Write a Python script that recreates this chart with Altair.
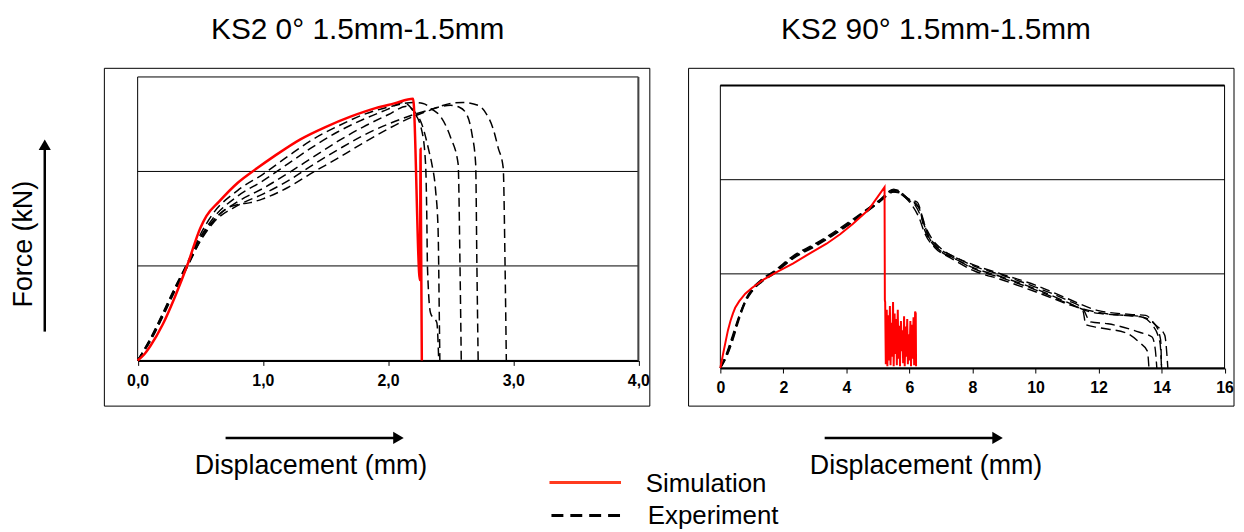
import altair as alt
import pandas as pd

# ---------------- data ----------------
TITLE_LEFT = "KS2 0° 1.5mm-1.5mm"
TITLE_RIGHT = "KS2 90° 1.5mm-1.5mm"
X_LABEL = "Displacement (mm)"
Y_LABEL = "Force (kN)"
LEGEND_SIM = "Simulation"
LEGEND_EXP = "Experiment"

LEFT_TICKS = [0, 1, 2, 3, 4]
RIGHT_TICKS = [0, 2, 4, 6, 8, 10, 12, 14, 16]
GRID_Y = [1, 2]

# left panel (0 deg): simulation
L_SIM = [(0, 0), (0.05, 0.06), (0.1, 0.15), (0.2, 0.38), (0.3, 0.68), (0.4, 1.02),
         (0.5, 1.40), (0.55, 1.53), (0.65, 1.68), (0.8, 1.88), (0.95, 2.03), (1.1, 2.17),
         (1.3, 2.34), (1.5, 2.47), (1.7, 2.58), (1.9, 2.67), (2.05, 2.72), (2.2, 2.77),
         (2.255, 0.85), (2.26, 2.24), (2.27, 0)]
# left panel: experiments
L_EXP_A = [(0, 0), (0.1, 0.22), (0.2, 0.48), (0.3, 0.76), (0.4, 1.02), (0.5, 1.3), (0.6, 1.5),
           (0.8, 1.74), (1.0, 1.9), (1.2, 2.08), (1.4, 2.26), (1.6, 2.42), (1.8, 2.55),
           (2.0, 2.66), (2.12, 2.73), (2.2, 2.64), (2.27, 2.43), (2.30, 2.08), (2.31, 1.5),
           (2.315, 0.99), (2.34, 0.5), (2.39, 0.4), (2.405, 0)]
L_EXP_B = [(0, 0), (0.1, 0.2), (0.2, 0.46), (0.3, 0.74), (0.4, 1.0), (0.5, 1.27), (0.6, 1.47),
           (0.8, 1.68), (1.0, 1.82), (1.2, 1.98), (1.4, 2.15), (1.6, 2.32), (1.8, 2.47),
           (2.0, 2.6), (2.15, 2.69), (2.22, 2.62), (2.27, 2.5), (2.33, 2.2), (2.35, 2.08),
           (2.38, 1.8), (2.40, 1.38), (2.41, 0.43), (2.414, 0)]
L_EXP_C = [(0, 0), (0.1, 0.23), (0.2, 0.5), (0.3, 0.78), (0.4, 1.04), (0.5, 1.33), (0.6, 1.55),
           (0.8, 1.80), (1.0, 1.97), (1.2, 2.16), (1.4, 2.34), (1.6, 2.48), (1.8, 2.6),
           (2.0, 2.68), (2.2, 2.73), (2.28, 2.72), (2.35, 2.66), (2.42, 2.58), (2.5, 2.36),
           (2.56, 2.08), (2.575, 1.0), (2.585, 0)]
L_EXP_D = [(0, 0), (0.1, 0.21), (0.2, 0.47), (0.3, 0.75), (0.4, 1.0), (0.5, 1.26), (0.6, 1.45),
           (0.8, 1.64), (1.0, 1.76), (1.2, 1.9), (1.4, 2.07), (1.6, 2.23), (1.8, 2.38),
           (2.0, 2.5), (2.2, 2.6), (2.3, 2.64), (2.4, 2.68), (2.5, 2.70), (2.57, 2.68),
           (2.63, 2.6), (2.67, 2.4), (2.70, 2.08), (2.71, 1.0), (2.72, 0)]
L_EXP_E = [(0, 0), (0.1, 0.22), (0.2, 0.49), (0.3, 0.77), (0.4, 1.03), (0.5, 1.3), (0.6, 1.47),
           (0.7, 1.6), (0.8, 1.65), (0.9, 1.67), (1.0, 1.71), (1.2, 1.83), (1.4, 1.99),
           (1.6, 2.14), (1.8, 2.30), (2.0, 2.45), (2.2, 2.58), (2.36, 2.66), (2.5, 2.72),
           (2.6, 2.73), (2.72, 2.70), (2.78, 2.62), (2.84, 2.45), (2.88, 2.25), (2.92, 2.04),
           (2.935, 1.0), (2.945, 0)]

# right panel (90 deg): simulation
R_SIM = [(0, 0), (0.08, 0.14), (0.16, 0.27), (0.24, 0.40), (0.32, 0.50), (0.4, 0.58),
         (0.47, 0.64), (0.6, 0.71), (0.79, 0.79), (1.0, 0.85), (1.37, 0.94), (1.8, 1.02),
         (2.3, 1.11), (2.8, 1.21), (3.37, 1.32), (3.8, 1.42), (4.2, 1.53), (4.7, 1.68),
         (5.21, 1.92), (5.22, 0.72),
         (5.23, 0.70), (5.25, 0.04), (5.28, 0.62), (5.30, 0.02), (5.33, 0.56), (5.35, 0.08),
         (5.38, 0.66), (5.40, 0.03), (5.43, 0.48), (5.45, 0.12), (5.48, 0.70), (5.50, 0.02),
         (5.53, 0.58), (5.55, 0.15), (5.58, 0.52), (5.60, 0.03), (5.63, 0.62), (5.65, 0.10),
         (5.68, 0.45), (5.70, 0.02), (5.73, 0.50), (5.75, 0.18), (5.78, 0.40), (5.80, 0.05),
         (5.83, 0.55), (5.85, 0.02), (5.88, 0.44), (5.90, 0.12), (5.93, 0.52), (5.95, 0.04),
         (5.98, 0.36), (6.00, 0.08), (6.03, 0.50), (6.05, 0.02), (6.08, 0.46), (6.10, 0.10),
         (6.13, 0.54), (6.15, 0.03), (6.18, 0.60), (6.20, 0.58), (6.21, 0.02)]
# right panel: experiments
R_EXP_1 = [(0, 0), (0.2, 0.16), (0.4, 0.36), (0.6, 0.56), (0.8, 0.72), (1.0, 0.82), (1.3, 0.92),
           (1.7, 1.01), (2.3, 1.17), (3.0, 1.30), (3.4, 1.38), (4.2, 1.56), (5.0, 1.76),
           (5.5, 1.90), (5.75, 1.84), (6.0, 1.78), (6.2, 1.75), (6.35, 1.66), (6.45, 1.5),
           (6.65, 1.36), (6.95, 1.25), (7.5, 1.15), (8.0, 1.07), (9.0, 0.96), (10.0, 0.84),
           (11.0, 0.70), (11.6, 0.61), (12.0, 0.58), (12.8, 0.56), (13.4, 0.54), (13.8, 0.46),
           (13.97, 0.30), (14.0, 0)]
R_EXP_2 = [(0, 0), (0.2, 0.12), (0.4, 0.3), (0.6, 0.52), (0.8, 0.7), (1.0, 0.81), (1.3, 0.91),
           (1.7, 1.0), (2.3, 1.16), (3.0, 1.29), (3.4, 1.37), (4.2, 1.55), (5.0, 1.75),
           (5.6, 1.88), (5.9, 1.80), (6.1, 1.72), (6.3, 1.6), (6.5, 1.42), (6.8, 1.28),
           (7.3, 1.17), (8.0, 1.04), (9.0, 0.93), (10.0, 0.81), (11.0, 0.68), (11.5, 0.61),
           (11.6, 0.46), (12.0, 0.43), (12.9, 0.37), (13.3, 0.27), (13.55, 0.18), (13.6, 0)]
R_EXP_3 = [(0, 0), (0.2, 0.14), (0.4, 0.33), (0.6, 0.54), (0.8, 0.71), (1.0, 0.83), (1.3, 0.93),
           (1.7, 1.02), (2.3, 1.18), (3.0, 1.31), (3.4, 1.39), (4.2, 1.57), (5.0, 1.77),
           (5.6, 1.89), (5.85, 1.83), (6.1, 1.76), (6.3, 1.7), (6.45, 1.55), (6.7, 1.38),
           (7.0, 1.27), (7.5, 1.17), (8.0, 1.09), (9.0, 0.98), (10.0, 0.86), (11.0, 0.72),
           (11.5, 0.63), (11.75, 0.49), (12.3, 0.47), (13.3, 0.38), (13.7, 0.33), (13.8, 0.2),
           (13.85, 0)]
R_EXP_4 = [(0, 0), (0.2, 0.13), (0.4, 0.32), (0.6, 0.55), (0.8, 0.73), (1.0, 0.84), (1.3, 0.94),
           (1.7, 1.03), (2.3, 1.19), (3.0, 1.32), (3.4, 1.4), (4.2, 1.58), (5.0, 1.77),
           (5.5, 1.89), (5.7, 1.87), (6.0, 1.79), (6.25, 1.76), (6.4, 1.62), (6.55, 1.45),
           (6.85, 1.3), (7.3, 1.2), (8.0, 1.1), (9.0, 0.99), (10.0, 0.88), (11.0, 0.74),
           (12.0, 0.61), (13.0, 0.57), (13.5, 0.56), (13.8, 0.46), (14.1, 0.35), (14.2, 0)]
R_EXP_5 = [(0, 0), (0.2, 0.15), (0.4, 0.34), (0.6, 0.55), (0.8, 0.71), (1.0, 0.82), (1.3, 0.92),
           (1.7, 1.02), (2.3, 1.17), (3.0, 1.3), (3.4, 1.38), (4.2, 1.55), (5.0, 1.75),
           (5.45, 1.87), (5.7, 1.86), (5.95, 1.79), (6.2, 1.72), (6.4, 1.58), (6.6, 1.4),
           (6.9, 1.27), (7.4, 1.17), (8.0, 1.06), (9.0, 0.95), (10.0, 0.83), (11.0, 0.69),
           (11.5, 0.63), (12.4, 0.57), (13.3, 0.55), (13.7, 0.46), (13.95, 0.27), (14.0, 0)]

LEFT_EXP = {"A": L_EXP_A, "B": L_EXP_B, "C": L_EXP_C, "D": L_EXP_D, "E": L_EXP_E}
RIGHT_EXP = {"1": R_EXP_1, "2": R_EXP_2, "3": R_EXP_3, "4": R_EXP_4, "5": R_EXP_5}


def curves_df(curves):
    rows = []
    for name, pts in curves.items():
        for i, (x, y) in enumerate(pts):
            rows.append({"curve": name, "i": i, "x": x, "y": y})
    return pd.DataFrame(rows)


# ---------------- layout (pixels inside the chart) ----------------
LX = alt.Scale(domain=[0, 4], range=[130.5, 634.5], nice=False, zero=False)
LY = alt.Scale(domain=[0, 3], range=[353, 67.7], nice=False, zero=False)
RX = alt.Scale(domain=[0, 16], range=[717, 1224.5], nice=False, zero=False)
RY = alt.Scale(domain=[0, 3], range=[360.7, 76.3], nice=False, zero=False)

W, H = 1236, 524
FONT = "Liberation Sans"

axis_common = dict(orient="bottom", domainColor="black", domainWidth=2, tickColor="black",
                   tickSize=5, tickWidth=1, labelFont=FONT, labelFontWeight="bold",
                   labelFontSize=16, labelColor="black", labelPadding=7, grid=False,
                   title=None, labelFlush=False, labelOverlap=False, labelBound=False)
left_axis = alt.Axis(offset=353 - H, values=LEFT_TICKS,
                     labelExpr="replace(format(datum.value, '.1f'), '.', ',')", **axis_common)
right_axis = alt.Axis(offset=360.7 - H, values=RIGHT_TICKS, format="d", **axis_common)

one = pd.DataFrame({"a": [0]})
lframe = pd.DataFrame({"x0": [0], "x1": [4], "y0": [0], "y1": [3]})
rframe = pd.DataFrame({"x0": [0], "x1": [16], "y0": [0], "y1": [3]})
grid = pd.DataFrame({"y": GRID_Y})

layers = []

# outer boxes
for x0, x1 in [(97, 646), (685, 1234)]:
    layers.append(alt.Chart(one).mark_rect(fillOpacity=0, stroke="black", strokeWidth=1).encode(
        x=alt.value(x0), x2=alt.value(x1), y=alt.value(59), y2=alt.value(399)))

# panel frames with axes
for frame, xs, ys, ax, xmax in [(lframe, LX, LY, left_axis, 4), (rframe, RX, RY, right_axis, 16)]:
    layers.append(alt.Chart(frame).mark_rect(fillOpacity=0, stroke="black", strokeWidth=1).encode(
        x=alt.X("x0:Q", scale=xs, axis=ax), x2="x1:Q",
        y=alt.Y("y0:Q", scale=ys, axis=None), y2="y1:Q"))
    gdf = grid.assign(x0=0, x1=xmax)
    layers.append(alt.Chart(gdf).mark_rule(color="black", strokeWidth=1).encode(
        x=alt.X("x0:Q", scale=xs, axis=None), x2="x1:Q",
        y=alt.Y("y:Q", scale=ys, axis=None)))

# left frame right edge (thicker grey)
layers.append(alt.Chart(lframe).mark_rule(color="#444444", strokeWidth=2).encode(
    x=alt.X("x1:Q", scale=LX, axis=None), y=alt.Y("y0:Q", scale=LY, axis=None), y2="y1:Q"))
# right frame top edge (thicker)
layers.append(alt.Chart(rframe).mark_rule(color="black", strokeWidth=2).encode(
    x=alt.X("x0:Q", scale=RX, axis=None), x2="x1:Q", y=alt.Y("y1:Q", scale=RY, axis=None)))

# curves
layers.append(alt.Chart(curves_df(LEFT_EXP)).mark_line(
    color="black", strokeWidth=1.5, strokeDash=[9, 5], interpolate="monotone").encode(
    x=alt.X("x:Q", scale=LX, axis=None), y=alt.Y("y:Q", scale=LY, axis=None),
    detail="curve:N", order="i:Q"))
layers.append(alt.Chart(curves_df({"sim": L_SIM})).mark_line(
    color="#ff0000", strokeWidth=2.5, interpolate="monotone").encode(
    x=alt.X("x:Q", scale=LX, axis=None), y=alt.Y("y:Q", scale=LY, axis=None), order="i:Q"))
layers.append(alt.Chart(curves_df(RIGHT_EXP)).mark_line(
    color="black", strokeWidth=1.4, strokeDash=[10, 5], interpolate="monotone").encode(
    x=alt.X("x:Q", scale=RX, axis=None), y=alt.Y("y:Q", scale=RY, axis=None),
    detail="curve:N", order="i:Q"))
layers.append(alt.Chart(curves_df({"sim": R_SIM})).mark_line(
    color="#ff0000", strokeWidth=2).encode(
    x=alt.X("x:Q", scale=RX, axis=None), y=alt.Y("y:Q", scale=RY, axis=None), order="i:Q"))

# titles
for txt, cx in [(TITLE_LEFT, 352), (TITLE_RIGHT, 934)]:
    layers.append(alt.Chart(one).mark_text(font=FONT, fontSize=30, color="black", align="center",
                                           baseline="alphabetic").encode(
        x=alt.value(cx), y=alt.value(29), text=alt.value(txt)))

# axis titles and arrows
layers.append(alt.Chart(one).mark_text(font=FONT, fontSize=27, color="black", align="center",
                                       baseline="middle", angle=270).encode(
    x=alt.value(16), y=alt.value(236), text=alt.value(Y_LABEL)))
layers.append(alt.Chart(one).mark_rule(color="black", strokeWidth=2.5).encode(
    x=alt.value(37), y=alt.value(324), y2=alt.value(140)))
layers.append(alt.Chart(one).mark_point(shape="triangle-up", filled=True, size=150,
                                        color="black", opacity=1).encode(
    x=alt.value(37), y=alt.value(136)))
for cx, x0, x1 in [(305, 219, 390), (924, 822, 993)]:
    layers.append(alt.Chart(one).mark_text(font=FONT, fontSize=27, color="black", align="center",
                                           baseline="alphabetic").encode(
        x=alt.value(cx), y=alt.value(467), text=alt.value(X_LABEL)))
    layers.append(alt.Chart(one).mark_rule(color="black", strokeWidth=2.5).encode(
        x=alt.value(x0), x2=alt.value(x1), y=alt.value(431)))
    layers.append(alt.Chart(one).mark_point(shape="triangle-right", filled=True, size=150,
                                            color="black", opacity=1).encode(
        x=alt.value(x1 + 3), y=alt.value(431)))

# legend
layers.append(alt.Chart(one).mark_rule(color="#ff3b1f", strokeWidth=3).encode(
    x=alt.value(545), x2=alt.value(617), y=alt.value(476)))
layers.append(alt.Chart(one).mark_rule(color="black", strokeWidth=3, strokeDash=[12, 7]).encode(
    x=alt.value(547), x2=alt.value(616), y=alt.value(509)))
layers.append(alt.Chart(one).mark_text(font=FONT, fontSize=26, color="black", align="left",
                                       baseline="alphabetic").encode(
    x=alt.value(642), y=alt.value(485), text=alt.value(LEGEND_SIM)))
layers.append(alt.Chart(one).mark_text(font=FONT, fontSize=26, color="black", align="left",
                                       baseline="alphabetic").encode(
    x=alt.value(644), y=alt.value(518), text=alt.value(LEGEND_EXP)))

chart = alt.layer(*layers).resolve_scale(x="independent", y="independent").properties(
    width=W, height=H, autosize="none", padding=0
).configure_view(stroke="transparent").configure_axis(
    labelFont=FONT, labelFontSize=16, labelFontWeight="bold", labelColor="black"
)

chart.save("out.html", embed_options={"renderer": "svg", "actions": False})
